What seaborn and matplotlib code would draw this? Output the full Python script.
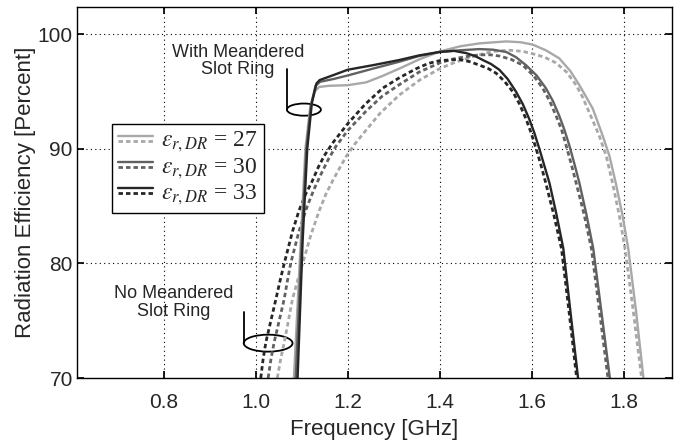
import matplotlib
matplotlib.use("Agg")
import matplotlib.pyplot as plt
import seaborn as sns
import pandas as pd
from matplotlib.lines import Line2D
from matplotlib.patches import Ellipse
from matplotlib.legend_handler import HandlerBase

# --- data (frequency in GHz, efficiency in percent) ---
er_values = [27, 30, 33]
colors = ["#a8a8a8", "#616161", "#262626"]

# with meandered slot ring (solid)
f_with_27 = [1.083, 1.098, 1.108, 1.118, 1.128, 1.138, 1.160, 1.200, 1.240, 1.275, 1.312, 1.355,
             1.400, 1.445, 1.486, 1.544, 1.575, 1.601, 1.630, 1.659, 1.683, 1.703, 1.718, 1.732,
             1.753, 1.768, 1.782, 1.796, 1.809, 1.826, 1.842]
e_with_27 = [70, 82, 90, 93.5, 95.0, 95.4, 95.5, 95.55, 95.8, 96.35, 97.0, 97.8,
             98.5, 98.95, 99.2, 99.37, 99.3, 99.1, 98.6, 97.9, 96.8, 95.55, 94.5, 93.5,
             91.2, 89.4, 87.0, 84.3, 81.3, 75.8, 70]
f_with_30 = [1.087, 1.100, 1.110, 1.120, 1.130, 1.140, 1.170, 1.200, 1.255, 1.312, 1.355, 1.400,
             1.445, 1.486, 1.515, 1.544, 1.565, 1.587, 1.610, 1.630, 1.645, 1.659, 1.670, 1.681,
             1.692, 1.703, 1.718, 1.733, 1.751, 1.769]
e_with_30 = [70, 82, 90, 93.8, 95.5, 95.85, 96.1, 96.4, 97.0, 97.6, 98.1, 98.45,
             98.6, 98.7, 98.65, 98.45, 98.0, 97.3, 96.4, 95.3, 94.2, 92.9, 91.7, 90.3,
             88.7, 87.0, 84.3, 81.3, 75.7, 70]
f_with_33 = [1.091, 1.102, 1.112, 1.122, 1.132, 1.139, 1.170, 1.200, 1.255, 1.312, 1.355, 1.399,
             1.430, 1.457, 1.476, 1.493, 1.511, 1.529, 1.547, 1.565, 1.580, 1.594, 1.605, 1.616,
             1.627, 1.638, 1.653, 1.668, 1.684, 1.700]
e_with_33 = [70, 82, 90, 94, 95.7, 96.0, 96.45, 96.9, 97.3, 97.75, 98.15, 98.45,
             98.55, 98.35, 98.1, 97.75, 97.4, 96.9, 96.1, 95.0, 93.9, 92.6, 91.4, 90.0,
             88.5, 87.0, 84.3, 81.3, 75.6, 70]

# no meandered slot ring (dashed)
f_no_27 = [1.047, 1.054, 1.062, 1.071, 1.080, 1.091, 1.102, 1.120, 1.138, 1.152, 1.167, 1.182,
           1.196, 1.215, 1.233, 1.270, 1.312, 1.356, 1.400, 1.430, 1.457, 1.490, 1.515, 1.551,
           1.580, 1.601, 1.627, 1.652, 1.675, 1.696, 1.710, 1.724, 1.746, 1.761, 1.775, 1.789,
           1.802, 1.820, 1.838]
e_no_27 = [70, 71.6, 73.1, 75.0, 76.9, 78.5, 80, 82.5, 84.6, 86.0, 87.2, 88.3,
           89.3, 90.4, 91.3, 93.1, 94.7, 96.0, 97.0, 97.5, 97.85, 98.25, 98.5, 98.6,
           98.5, 98.3, 98.0, 97.5, 96.7, 95.55, 94.5, 93.2, 91.15, 89.4, 87.0, 84.3,
           81.3, 75.8, 70]
f_no_30 = [1.027, 1.033, 1.040, 1.051, 1.062, 1.069, 1.076, 1.094, 1.112, 1.127, 1.142, 1.158,
           1.174, 1.200, 1.240, 1.275, 1.312, 1.355, 1.400, 1.430, 1.457, 1.486, 1.510, 1.529,
           1.555, 1.580, 1.603, 1.623, 1.638, 1.652, 1.664, 1.674, 1.685, 1.696, 1.713, 1.729,
           1.747, 1.765]
e_no_30 = [70, 71.6, 73.1, 75.0, 76.9, 78.5, 80, 82.8, 85.0, 86.5, 87.8, 89.1,
           90.2, 91.6, 93.3, 94.6, 95.6, 96.7, 97.5, 97.85, 98.05, 98.2, 98.2, 98.1,
           97.8, 97.3, 96.4, 95.3, 94.2, 92.9, 91.7, 90.3, 88.7, 87.0, 84.3, 81.3,
           75.7, 70]
f_no_33 = [1.011, 1.016, 1.022, 1.033, 1.044, 1.053, 1.062, 1.080, 1.094, 1.108, 1.123, 1.136,
           1.149, 1.167, 1.200, 1.238, 1.276, 1.312, 1.349, 1.375, 1.400, 1.443, 1.465, 1.486,
           1.505, 1.522, 1.540, 1.558, 1.573, 1.587, 1.598, 1.609, 1.620, 1.630, 1.647, 1.664,
           1.681, 1.697]
e_no_33 = [70, 71.6, 73.1, 75.0, 76.9, 78.5, 80, 82.8, 84.6, 86.0, 87.2, 88.4,
           89.4, 90.5, 92.2, 93.9, 95.3, 96.2, 97.0, 97.45, 97.7, 97.8, 97.6, 97.3,
           97.0, 96.6, 95.9, 95.0, 93.9, 92.6, 91.4, 90.0, 88.5, 87.0, 84.3, 81.3,
           75.6, 70]

x_ticks = [0.8, 1.0, 1.2, 1.4, 1.6, 1.8]
y_ticks = [70, 80, 90, 100]

with_curves = [(f_with_27, e_with_27), (f_with_30, e_with_30), (f_with_33, e_with_33)]
no_curves = [(f_no_27, e_no_27), (f_no_30, e_no_30), (f_no_33, e_no_33)]

sns.set_theme(style="ticks")
plt.rcParams["font.family"] = ["Liberation Sans", "DejaVu Sans"]
plt.rcParams["mathtext.fontset"] = "stix"

DASH = (0, (1.6, 1.1))

fig = plt.figure(figsize=(6.78, 4.40), dpi=100)
ax = fig.add_axes([77 / 678, 1 - 378 / 440, 595 / 678, 371.3 / 440])

for (f, e), color in zip(no_curves, colors):
    df = pd.DataFrame({"freq": f, "eff": e})
    sns.lineplot(data=df, x="freq", y="eff", ax=ax, color=color, linewidth=2.0,
                 linestyle=DASH, estimator=None, sort=False)
for (f, e), color in zip(with_curves, colors):
    df = pd.DataFrame({"freq": f, "eff": e})
    sns.lineplot(data=df, x="freq", y="eff", ax=ax, color=color, linewidth=1.7,
                 estimator=None, sort=False)

ax.set_xlim(0.612, 1.904)
ax.set_ylim(70, 102.4)
ax.set_xticks(x_ticks)
ax.set_xticklabels([f"{v:.1f}" for v in x_ticks])
ax.set_yticks(y_ticks)
ax.grid(True, color="black", linestyle=(0, (1, 3)), linewidth=0.8)
ax.tick_params(direction="in", length=5, top=True, right=True, labelsize=15,
               color="black")
ax.tick_params(axis="x", pad=11)
ax.tick_params(axis="y", pad=3)
for sp in ax.spines.values():
    sp.set_color("black")
    sp.set_linewidth(1.0)
ax.set_xlabel("Frequency [GHz]", fontsize=16, labelpad=5)
ax.set_ylabel("Radiation Efficiency [Percent]", fontsize=16, labelpad=1)

# annotations: ellipses and leader lines
ax.add_patch(Ellipse((1.1047, 93.42), 0.0738, 1.06, fill=False, color="black", lw=1.3))
ax.plot([1.068, 1.068], [93.42, 97.0], color="black", lw=1.3)
ax.text(0.961, 97.65, "With Meandered\nSlot Ring", ha="center", va="center",
        fontsize=13, linespacing=1.05)
ax.add_patch(Ellipse((1.027, 73.04), 0.106, 1.48, fill=False, color="black", lw=1.3))
ax.plot([0.974, 0.974], [73.04, 75.8], color="black", lw=1.3)
ax.text(0.822, 76.6, "No Meandered\nSlot Ring", ha="center", va="center",
        fontsize=13, linespacing=1.05)


class PairHandler(HandlerBase):
    def create_artists(self, legend, orig_handle, xdescent, ydescent, width, height,
                       fontsize, trans):
        color = orig_handle[0].get_color()
        yc = height / 2 - ydescent
        x0, x1 = -xdescent, width - xdescent
        top = Line2D([x0, x1], [yc + 0.15 * height] * 2, color=color, lw=1.7, transform=trans)
        bot = Line2D([x0, x1], [yc - 0.15 * height] * 2, color=color, lw=2.0,
                     linestyle=DASH, transform=trans)
        return [top, bot]


handles = [(Line2D([], [], color=c), Line2D([], [], color=c, linestyle=DASH)) for c in colors]
labels = [r"$\varepsilon_{r,DR}$ = " + str(v) for v in er_values]
leg = ax.legend(handles, labels, handler_map={tuple: PairHandler()},
                loc="upper left", bbox_to_anchor=(0.0583, 0.684), borderaxespad=0,
                prop={"family": "Liberation Serif", "size": 17},
                handlelength=1.5, handletextpad=0.35, labelspacing=0.08,
                borderpad=0.25, fancybox=False, framealpha=1, edgecolor="black")
leg.get_frame().set_linewidth(1.0)

fig.savefig("out.png", dpi=100)
